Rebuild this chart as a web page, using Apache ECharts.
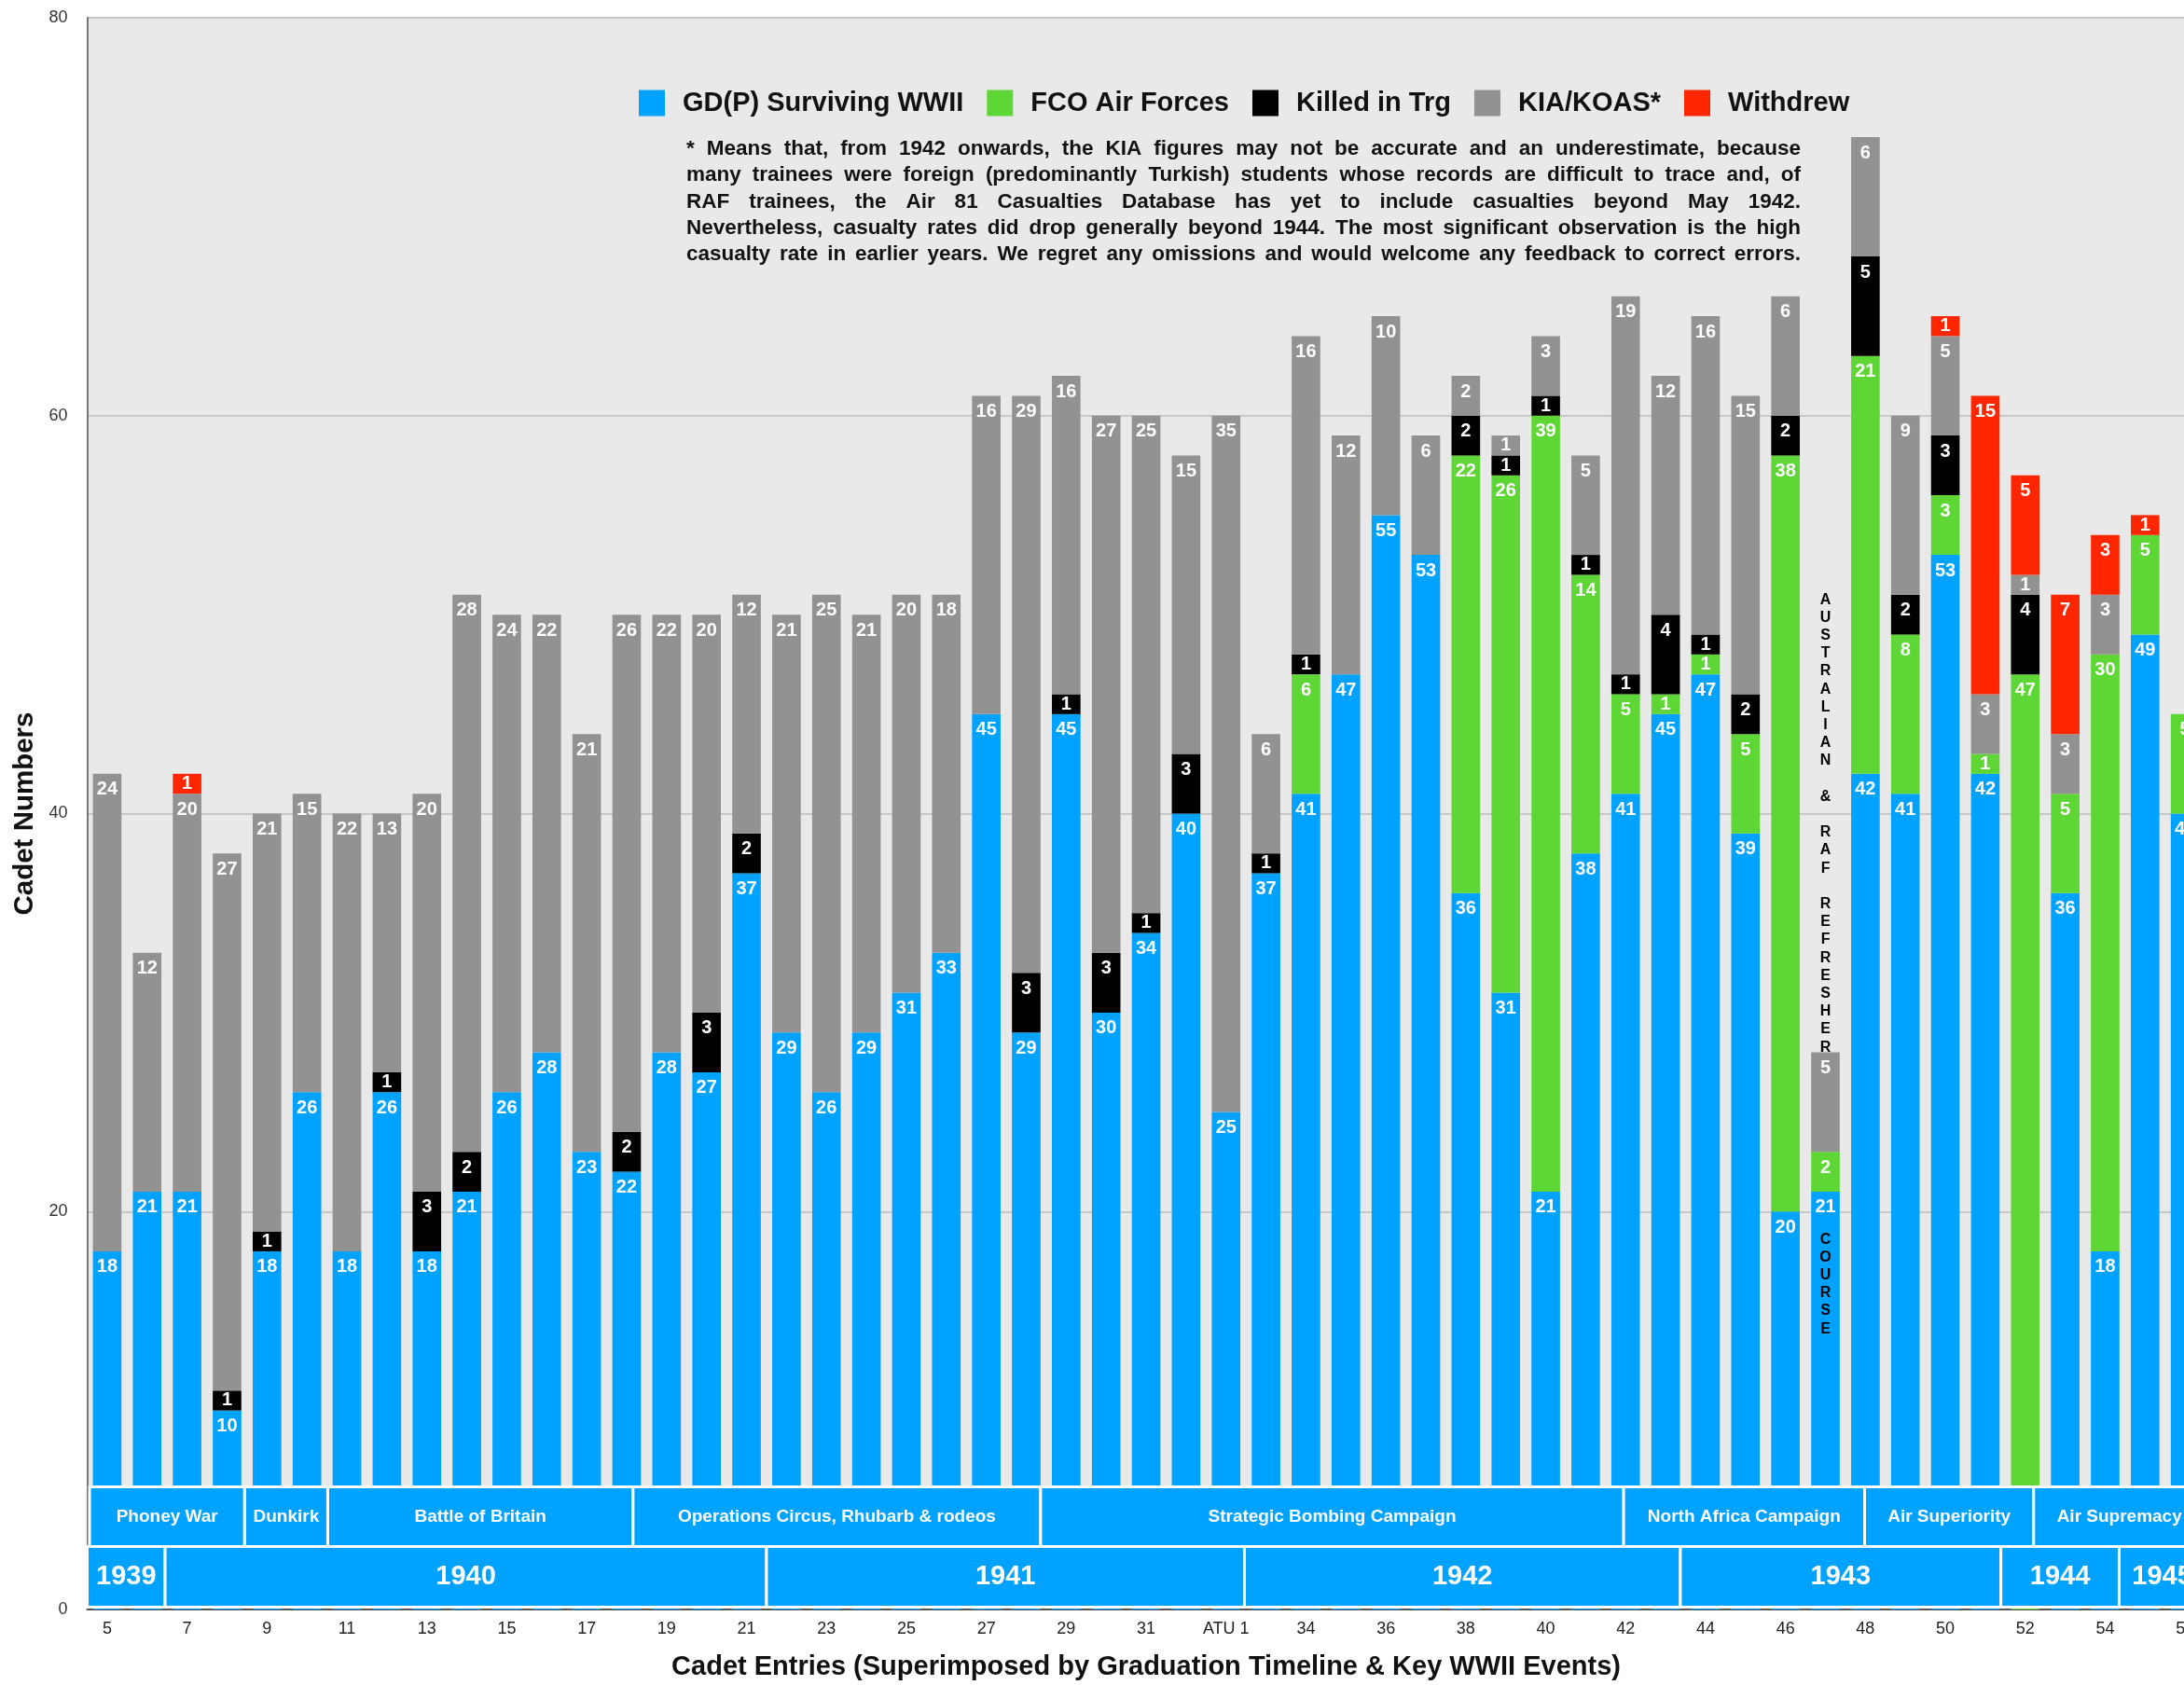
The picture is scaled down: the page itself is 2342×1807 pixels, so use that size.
<!DOCTYPE html>
<html><head><meta charset="utf-8">
<script src="https://cdn.jsdelivr.net/npm/echarts@6/dist/echarts.min.js"></script>
<style>
html,body{margin:0;padding:0;background:#fff;overflow:hidden;width:2342px;height:1807px}
#chart{width:2400px;height:1807px}
</style></head>
<body><div id="chart"></div>
<script>
const categories = ['5','6','7','8','9','10','11','12','13','14','15','16','17','18','19','20','21','22','23','24','25','26','27','28','29','30','31','32','ATU 1','33','34','35','36','37','38','39','40','41','42','43','44','45','46','47','48','49','50','51','52','53','54','55','56'];

const gdpSurviving = [18,21,21,10,18,26,18,26,18,21, 26,28,23,22,28,27,37,29,26,29, 31,33,45,29,45,30,34,40,25,37, 41,47,55,53,36,31,21,38,41,45, 47,39,20,21,42,41,53,42,0,36, 18,49,40];
const fcoAirForces = [0,0,0,0,0,0,0,0,0,0, 0,0,0,0,0,0,0,0,0,0, 0,0,0,0,0,0,0,0,0,0, 6,0,0,0,22,26,39,14,5,1, 1,5,38,2,21,8,3,1,47,5, 30,5,5];
const killedInTrg = [0,0,0,1,1,0,0,1,3,2, 0,0,0,2,0,3,2,0,0,0, 0,0,0,3,1,3,1,3,0,1, 1,0,0,0,2,1,1,1,1,4, 1,2,2,0,5,2,3,0,4,0, 0,0,0];
const kiaKoas = [24,12,20,27,21,15,22,13,20,28, 24,22,21,26,22,20,12,21,25,21, 20,18,16,29,16,27,25,15,35,6, 16,12,10,6,2,1,3,5,19,12, 16,15,6,5,6,9,5,3,1,3, 3,0,0];
const withdrew = [0,0,1,0,0,0,0,0,0,0, 0,0,0,0,0,0,0,0,0,0, 0,0,0,0,0,0,0,0,0,0, 0,0,0,0,0,0,0,0,0,0, 0,0,0,0,0,0,1,15,5,7, 3,1,0];

const seriesNames = ['GD(P) Surviving WWII','FCO Air Forces','Killed in Trg','KIA/KOAS*','Withdrew'];

// timeline bands, in entry units (0 = left edge of first entry)
const eventNames = ['Phoney War','Dunkirk','Battle of Britain','Operations Circus, Rhubarb & rodeos','Strategic Bombing Campaign','North Africa Campaign','Air Superiority','Air Supremacy'];
const eventStarts = [0.06, 3.94, 6.02, 13.66, 23.86, 38.45, 44.48, 48.71];
const yearNames = ['1939','1940','1941','1942','1943','1944','1945'];
const yearStarts = [0, 1.95, 17.0, 28.96, 39.87, 47.89, 50.85];

const refresherEntry = '47';
const refresherTop = 'AUSTRALIAN & RAF REFRESHER';
const refresherBottom = 'COURSE';

const noteLines = [
 '* Means that, from 1942 onwards, the KIA figures may not be accurate and an underestimate, because',
 'many trainees were foreign (predominantly Turkish) students whose records are difficult to trace and, of',
 'RAF trainees, the Air 81 Casualties Database has yet to include casualties beyond May 1942.',
 'Nevertheless, casualty rates did drop generally beyond 1944. The most significant observation is the high',
 'casualty rate in earlier years. We regret any omissions and would welcome any feedback to correct errors.'
];

const FONT = '"Liberation Sans", Arial, Helvetica, sans-serif';
const colors = ['#00A2FF','#5ED635','#000000','#929292','#FF2600'];
const valuesBySeries = [gdpSurviving, fcoAirForces, killedInTrg, kiaKoas, withdrew];

const barSeries = seriesNames.map((name, si) => ({
  name, type: 'bar', stack: 'total', barWidth: '71.5%',
  itemStyle: {color: colors[si]},
  label: {show: true, position: 'insideTop', distance: 7, color: '#fff', fontWeight: 'bold', fontSize: 20, fontFamily: FONT,
    formatter: p => (p.value > 0 ? String(p.value) : '')},
  data: valuesBySeries[si].map(v => v === 1 ? {value: v, label: {position: 'inside'}} : v)
}));

const boxes = [];
eventNames.forEach((n, i) => boxes.push({name: n, start: eventStarts[i], end: i + 1 < eventStarts.length ? eventStarts[i + 1] : categories.length, row: 0}));
yearNames.forEach((n, i) => boxes.push({name: n, start: yearStarts[i], end: i + 1 < yearStarts.length ? yearStarts[i + 1] : categories.length, row: 1}));

const timelineSeries = {
  type: 'custom', name: 'timeline', z: 5, silent: true,
  data: boxes.map((b, i) => [i, 0]),
  renderItem: function (params, api) {
    const b = boxes[params.dataIndex];
    const bw = api.size([1, 0])[0];
    const origin = api.coord([0, 0]);
    const x0 = origin[0] - bw / 2;
    const base = origin[1];
    const xa = x0 + b.start * bw, xb = x0 + b.end * bw;
    const ya = b.row === 0 ? base - 131.5 : base - 67.5;
    const yb = b.row === 0 ? base - 67.5 : base - 2.5;
    return {type: 'group', children: [
      {type: 'rect', shape: {x: xa, y: ya, width: xb - xa, height: yb - ya}, style: {fill: '#00A2FF', stroke: '#ffffff', lineWidth: 3}},
      {type: 'text', style: {text: b.name, x: (xa + xb) / 2, y: (ya + yb) / 2, align: 'center', verticalAlign: 'middle', fill: '#ffffff',
        fontSize: b.row === 0 ? 19 : 29, fontWeight: 'bold', fontFamily: FONT}}
    ]};
  }
};

const refIdx = categories.indexOf(refresherEntry);
const refresherSeries = {
  type: 'custom', name: 'refresher', z: 6, silent: true,
  data: [[refIdx, 0]],
  renderItem: function (params, api) {
    const x = api.coord([refIdx, 0])[0];
    const yTop = api.coord([refIdx, 51.2])[1];
    const yBot = api.coord([refIdx, 19.05])[1];
    const st = {align: 'center', verticalAlign: 'top', fill: '#000', fontSize: 16, fontWeight: 'bold', fontFamily: FONT, lineHeight: 19.2};
    return {type: 'group', children: [
      {type: 'text', style: Object.assign({text: refresherTop.split('').join('\n'), x: x, y: yTop}, st)},
      {type: 'text', style: Object.assign({text: refresherBottom.split('').join('\n'), x: x, y: yBot}, st)}
    ]};
  }
};

// justified footnote
const NOTE_FS = 22.5, NOTE_LEFT = 736, NOTE_RIGHT = 1931, NOTE_Y = 159.5, NOTE_LH = 28.4;
const ctx = document.createElement('canvas').getContext('2d');
ctx.font = 'bold ' + NOTE_FS + 'px ' + FONT;
const noteGraphics = noteLines.map((line, i) => {
  const words = line.split(' ');
  const ws = words.map(w => ctx.measureText(w).width);
  const sum = ws.reduce((a, b) => a + b, 0);
  const gap = Math.max(3, (NOTE_RIGHT - NOTE_LEFT - sum) / (words.length - 1));
  return {type: 'text', x: NOTE_LEFT, y: NOTE_Y + i * NOTE_LH, silent: true, z: 10,
    style: {text: words.join('{s| }'), fontSize: NOTE_FS, fontWeight: 'bold', fontFamily: FONT, fill: '#111',
      verticalAlign: 'middle', align: 'left',
      rich: {s: {width: gap, fontSize: NOTE_FS, fontWeight: 'bold', fontFamily: FONT}}}};
});

const chart = echarts.init(document.getElementById('chart'), null, {renderer: 'canvas'});
chart.setOption({
  animation: false,
  backgroundColor: '#ffffff',
  textStyle: {fontFamily: FONT},
  grid: {left: 93.5, right: 35.4, top: 19, bottom: 70, show: true, backgroundColor: '#E9E9E9', borderWidth: 0, containLabel: false},
  legend: {data: seriesNames, left: 680, top: 91, itemWidth: 28, itemHeight: 28, itemGap: 25, icon: 'rect', selectedMode: false,
    textStyle: {fontSize: 29, fontWeight: 'bold', color: '#111', fontFamily: FONT, padding: [0, 0, 0, 14]}},
  xAxis: {type: 'category', data: categories,
    name: 'Cadet Entries (Superimposed by Graduation Timeline & Key WWII Events)', nameLocation: 'middle', nameGap: 47,
    nameTextStyle: {fontSize: 29, fontWeight: 'bold', color: '#111', fontFamily: FONT},
    axisLine: {lineStyle: {color: '#555', width: 2}}, axisTick: {show: false},
    axisLabel: {interval: 1, fontSize: 18, color: '#222', margin: 12, fontFamily: FONT}},
  yAxis: {type: 'value', min: 0, max: 80, interval: 20,
    name: 'Cadet Numbers', nameLocation: 'middle', nameGap: 51,
    nameTextStyle: {fontSize: 29.5, fontWeight: 'bold', color: '#111', fontFamily: FONT},
    axisLine: {show: true, lineStyle: {color: '#777', width: 2}}, axisTick: {show: false},
    splitLine: {lineStyle: {color: '#C8C8C8', width: 2}},
    axisLabel: {fontSize: 18, color: '#333', margin: 21, fontFamily: FONT}},
  graphic: noteGraphics,
  series: barSeries.concat([timelineSeries, refresherSeries])
});
</script></body></html>
